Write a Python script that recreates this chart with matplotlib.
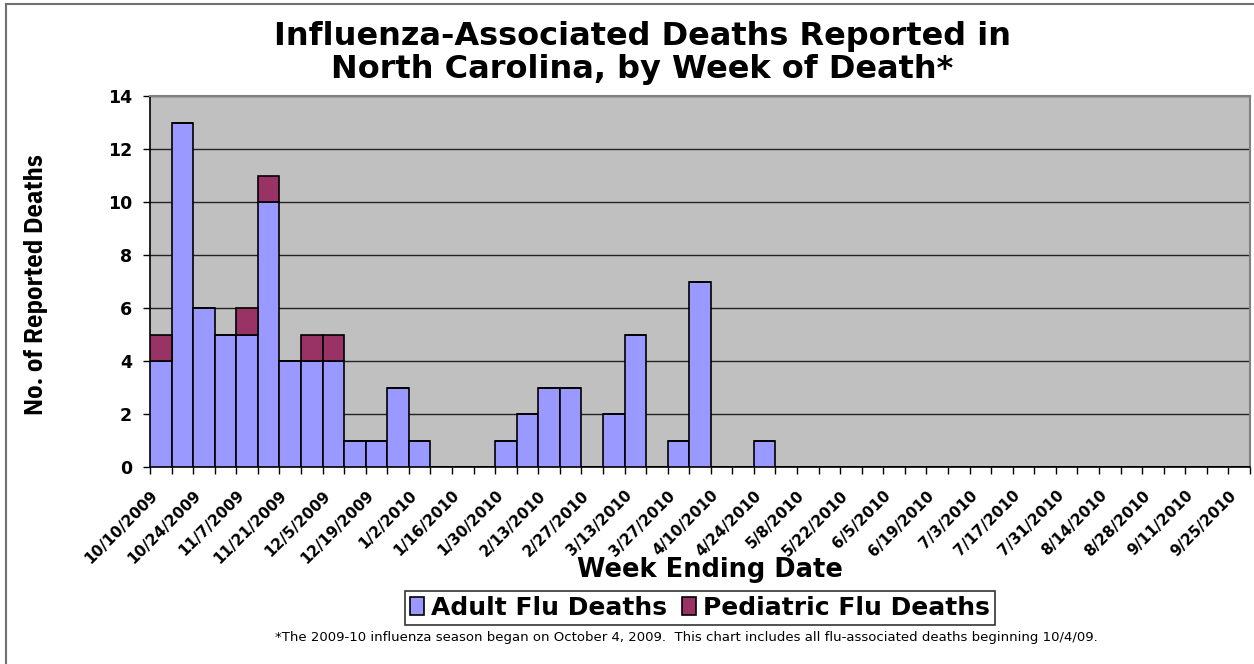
import matplotlib.pyplot as plt
import numpy as np
import pandas as pd
from matplotlib.lines import Line2D

# week ending dates, 10/10/2009 .. 9/25/2010
weeks = pd.date_range("2009-10-10", "2010-09-25", freq="7D")
week_labels = [f"{d.month}/{d.day}/{d.year}" for d in weeks]

adult = [4, 13, 6, 5, 5, 10, 4, 4, 4, 1, 1, 3, 1, 0, 0, 0, 1, 2, 3, 3,
         0, 2, 5, 0, 1, 7, 0, 0, 1, 0, 0, 0, 0, 0, 0, 0, 0, 0, 0, 0,
         0, 0, 0, 0, 0, 0, 0, 0, 0, 0, 0]
pediatric = [1, 0, 0, 0, 1, 1, 0, 1, 1, 0, 0, 0, 0, 0, 0, 0, 0, 0, 0, 0,
             0, 0, 0, 0, 0, 0, 0, 0, 0, 0, 0, 0, 0, 0, 0, 0, 0, 0, 0, 0,
             0, 0, 0, 0, 0, 0, 0, 0, 0, 0, 0]

narrow = ["IBM Plex Sans Condensed", "DejaVu Sans"]

fig = plt.figure(figsize=(12.54, 6.64), dpi=100)
ax = fig.add_axes([150 / 1254, 1 - 467 / 664, 1100 / 1254, 371 / 664])
ax.set_facecolor("#C0C0C0")

x = np.arange(len(adult))
ax.bar(x, adult, width=1.0, align="edge", color="#9999FF",
       edgecolor="black", linewidth=1.2, zorder=3, label="Adult Flu Deaths")
ax.bar(x, pediatric, width=1.0, align="edge", bottom=adult, color="#993366",
       edgecolor="black", linewidth=1.2, zorder=3, label="Pediatric Flu Deaths")

# tick marks on week boundaries, a label every other week
ax.xaxis.remove_overlapping_locs = False
ax.set_xticks(np.arange(0, len(adult) + 1))
ax.set_xticklabels([])
ax.set_xticks(np.arange(0, len(adult), 2), minor=True)
ax.set_xticklabels(week_labels[::2], minor=True, rotation=45, ha="right", va="top",
                   rotation_mode="anchor", fontsize=11, fontweight="bold")
ax.tick_params(axis="x", which="minor", length=0, pad=15)
ax.tick_params(axis="x", which="major", length=5, width=1, direction="out")
ax.tick_params(axis="y", length=5, width=1, direction="out", pad=8)

ax.set_xlim(0, len(adult))
ax.set_ylim(0, 14)
ax.set_yticks(range(0, 15, 2))
ax.yaxis.grid(True, color="#222222", linewidth=1.0, zorder=1)
for t in ax.get_yticklabels():
    t.set_fontsize(12.5)
    t.set_fontweight("bold")

for s in ["top", "right"]:
    ax.spines[s].set_color("#808080")
    ax.spines[s].set_linewidth(1.5)
for s in ["left", "bottom"]:
    ax.spines[s].set_color("black")
    ax.spines[s].set_linewidth(1.2)

fig.text(642 / 1254, 1 - 53 / 664,
         "Influenza-Associated Deaths Reported in\nNorth Carolina, by Week of Death*",
         ha="center", va="center", fontsize=23, fontweight="bold", linespacing=1.1)
fig.text(710 / 1254, 1 - 570 / 664, "Week Ending Date", ha="center", va="center",
         fontsize=18.5, fontweight="bold")
fig.text(36 / 1254, 1 - 285 / 664, "No. of Reported Deaths", rotation=90,
         ha="center", va="center", fontsize=19, fontweight="bold", family=narrow)
fig.text(686 / 1254, 1 - 637 / 664,
         "*The 2009-10 influenza season began on October 4, 2009.  This chart includes "
         "all flu-associated deaths beginning 10/4/09.",
         ha="center", va="center", fontsize=9.5)

leg = fig.legend(loc="center", bbox_to_anchor=(700 / 1254, 1 - 608 / 664), ncol=2,
                 frameon=True, fancybox=False, edgecolor="black",
                 prop={"weight": "bold", "size": 18}, handlelength=0.55,
                 handleheight=0.75, handletextpad=0.3, columnspacing=0.6,
                 borderpad=0.2, borderaxespad=0)
leg.get_frame().set_linewidth(1.2)

# outer chart frame (top and left edges visible)
fig.add_artist(Line2D([6 / 1254, 1], [1 - 4 / 664, 1 - 4 / 664], color="#707070", lw=1.5))
fig.add_artist(Line2D([6 / 1254, 6 / 1254], [0, 1 - 4 / 664], color="#707070", lw=1.5))

fig.savefig("out.png", dpi=100)
